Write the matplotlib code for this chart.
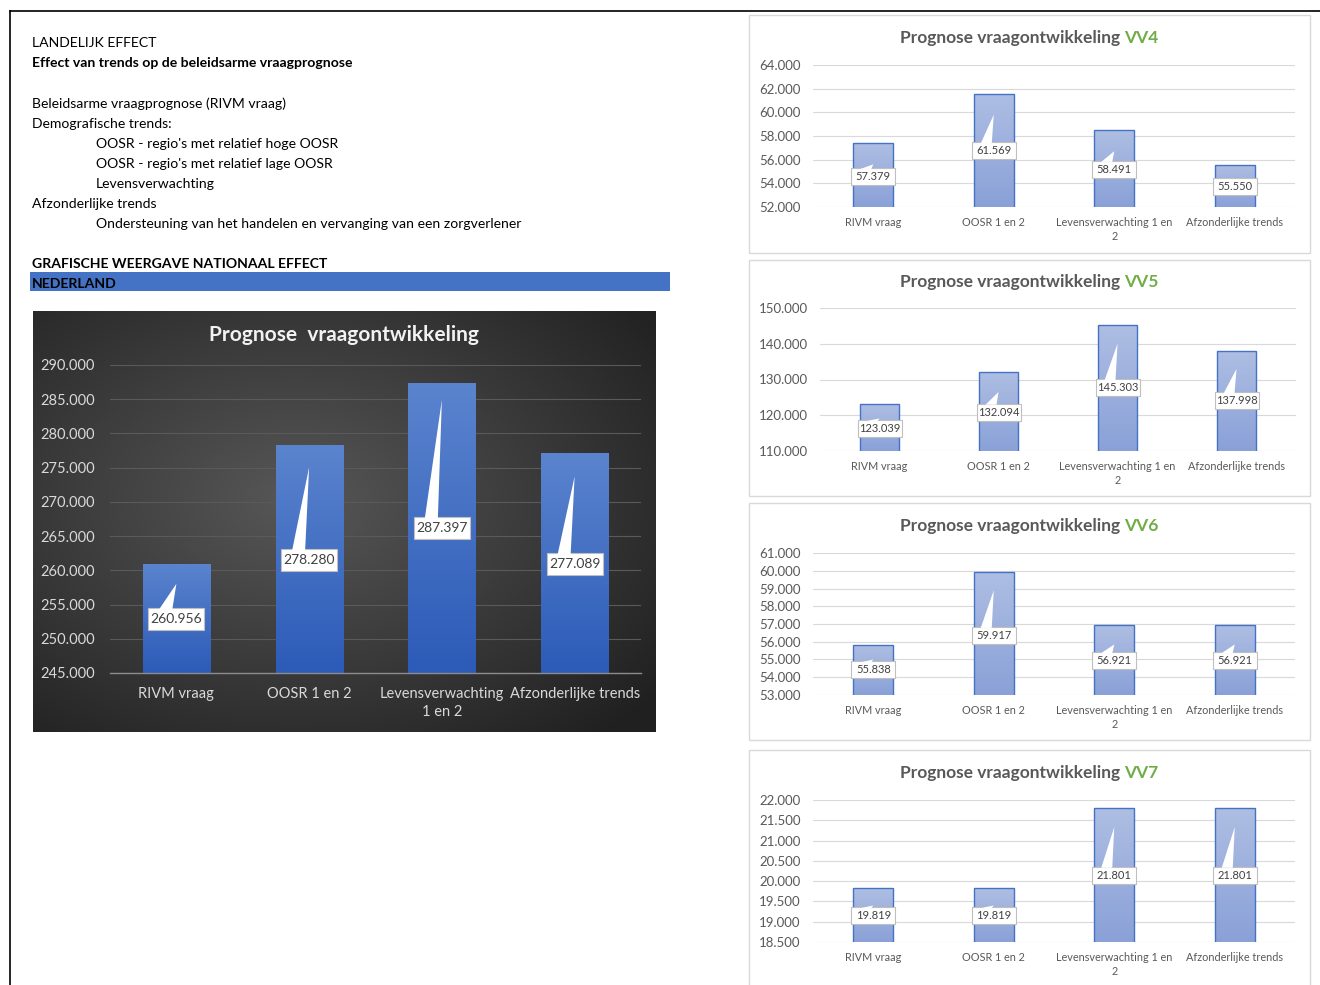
import numpy as np
import matplotlib
matplotlib.use("Agg")
import matplotlib.pyplot as plt
from matplotlib.patches import Polygon, Rectangle
from matplotlib.lines import Line2D
from matplotlib.transforms import IdentityTransform
from matplotlib.colors import to_rgb

W, H = 1320, 985
plt.rcParams['font.family'] = ['Lato', 'DejaVu Sans']

# ---------------- data ----------------
categories = ["RIVM vraag", "OOSR 1 en 2", "Levensverwachting 1 en 2", "Afzonderlijke trends"]
main_ticklabels = ["RIVM vraag", "OOSR 1 en 2", "Levensverwachting\n1 en 2", "Afzonderlijke trends"]
small_ticklabels = ["RIVM vraag", "OOSR 1 en 2", "Levensverwachting 1 en\n2", "Afzonderlijke trends"]

nl_values = [260956, 278280, 287397, 277089]
vv4_values = [57379, 61569, 58491, 55550]
vv5_values = [123039, 132094, 145303, 137998]
vv6_values = [55838, 59917, 56921, 56921]
vv7_values = [19819, 19819, 21801, 21801]

nl_yticks = [245000, 250000, 255000, 260000, 265000, 270000, 275000, 280000, 285000, 290000]
vv4_yticks = [52000, 54000, 56000, 58000, 60000, 62000, 64000]
vv5_yticks = [110000, 120000, 130000, 140000, 150000]
vv6_yticks = [53000, 54000, 55000, 56000, 57000, 58000, 59000, 60000, 61000]
vv7_yticks = [18500, 19000, 19500, 20000, 20500, 21000, 21500, 22000]

intro_lines = [
    ("LANDELIJK EFFECT", 0, "normal"),
    ("Effect van trends op de beleidsarme vraagprognose", 0, "bold"),
    ("Beleidsarme vraagprognose (RIVM vraag)", 0, "normal"),
    ("Demografische trends:", 0, "normal"),
    ("OOSR - regio's met relatief hoge OOSR", 1, "normal"),
    ("OOSR - regio's met relatief lage OOSR", 1, "normal"),
    ("Levensverwachting", 1, "normal"),
    ("Afzonderlijke trends", 0, "normal"),
    ("Ondersteuning van het handelen en vervanging van een zorgverlener", 1, "normal"),
    ("GRAFISCHE WEERGAVE NATIONAAL EFFECT", 0, "bold"),
]
intro_y = [42, 62, 103, 123, 143, 163, 183, 203, 223, 263]
banner_text = "NEDERLAND"
main_title = "Prognose  vraagontwikkeling"
small_title = "Prognose vraagontwikkeling"


def fmt(v):
    return f"{v:,.0f}".replace(",", ".")


fig = plt.figure(figsize=(W / 100, H / 100), dpi=100)
fig.patch.set_facecolor("white")


def add_ax(l, t, r, b, **kw):
    return fig.add_axes([l / W, 1 - b / H, (r - l) / W, (b - t) / H], **kw)


# ---------------- page frame ----------------
fig.add_artist(Line2D([10 / W, 1], [1 - 11 / H, 1 - 11 / H], transform=fig.transFigure,
                      color="black", lw=1.2))
fig.add_artist(Line2D([10 / W, 10 / W], [0, 1 - 11 / H], transform=fig.transFigure,
                      color="black", lw=1.2))

# ---------------- intro text ----------------
for (txt, indent, wt), y in zip(intro_lines, intro_y):
    x = 32 if indent == 0 else 96
    fig.text(x / W, 1 - (y + 1) / H, txt, fontsize=10.1, fontweight=wt, color="black",
             va="center", ha="left")

fig.add_artist(Rectangle((30 / W, 1 - 291 / H), 640 / W, 19 / H, transform=fig.transFigure,
                         facecolor="#4472C4", edgecolor="none"))
fig.text(32 / W, 1 - 284 / H, banner_text, fontsize=10.1, fontweight="bold", color="black",
         va="center", ha="left")


# ---------------- helpers ----------------
def gradient_bars(ax, values, width, top_c, bot_c, edge=None, lw=0.0):
    ylo = ax.get_ylim()[0]
    bars = ax.bar(range(len(values)), values, width=width, facecolor="none",
                  edgecolor=edge if edge else "none", linewidth=lw, zorder=3)
    t = np.array(to_rgb(top_c))
    b = np.array(to_rgb(bot_c))
    f = np.linspace(0, 1, 256)[:, None]
    img = (t[None, :] * (1 - f) + b[None, :] * f)[:, None, :]
    for i, (bar, v) in enumerate(zip(bars, values)):
        im = ax.imshow(img, extent=(i - width / 2, i + width / 2, ylo, v), aspect="auto",
                       origin="upper", zorder=2, interpolation="bilinear")
        im.set_clip_path(bar)
    return bars


def callouts(ax, values, dys, tips, box_w, box_h, fs, base=(-13, -2)):
    for i, (v, dy, tu) in enumerate(zip(values, dys, tips)):
        cx, ty = ax.transData.transform((i, v))
        by = ty - dy
        ax.add_patch(Rectangle((cx - box_w / 2, by - box_h / 2), box_w, box_h,
                               transform=IdentityTransform(), facecolor="white",
                               edgecolor="#BFBFBF", lw=0.8, zorder=6, clip_on=False))
        if tu > box_h / 2 + 1:
            ax.add_patch(Polygon([(cx + base[0], by + box_h / 2 - 1.2),
                                  (cx + base[1], by + box_h / 2 - 1.2),
                                  (cx, by + tu)], closed=True,
                                 transform=IdentityTransform(), facecolor="white",
                                 edgecolor="none", zorder=7, clip_on=False))
        ax.text(cx, by, fmt(v), transform=IdentityTransform(), ha="center", va="center",
                fontsize=fs, color="#404040", zorder=8, clip_on=False)


# ---------------- main dark chart ----------------
bg = add_ax(33, 311, 656, 732)
yy, xx = np.mgrid[0:1:300j, 0:1:450j]
r = np.sqrt(((xx - 0.42) / 0.75) ** 2 + ((yy - 0.45) / 0.75) ** 2)
r = np.clip(r, 0, 1)
c0 = np.array(to_rgb("#575757"))
c1 = np.array(to_rgb("#202020"))
bgimg = c0[None, None, :] * (1 - r[..., None]) + c1[None, None, :] * r[..., None]
bg.imshow(bgimg, extent=(0, 1, 0, 1), aspect="auto", origin="upper")
bg.set_axis_off()

ax = add_ax(110, 365, 641, 673)
ax.set_facecolor("none")
ax.set_xlim(-0.5, 3.5)
ax.set_ylim(nl_yticks[0], nl_yticks[-1])
gradient_bars(ax, nl_values, 0.505, "#5B84CE", "#2C5BB8")
ax.set_yticks(nl_yticks)
ax.set_yticklabels([fmt(v) for v in nl_yticks])
ax.set_xticks(range(4))
ax.set_xticklabels(main_ticklabels, linespacing=1.4)
ax.tick_params(axis="y", length=0, pad=11, labelsize=10.5, labelcolor="#D9D9D9")
ax.tick_params(axis="x", length=0, pad=10, labelsize=10.5, labelcolor="#D9D9D9")
ax.grid(axis="y", color="#5A5A5A", lw=0.8, zorder=1)
ax.set_axisbelow(True)
for s in ["top", "right", "left"]:
    ax.spines[s].set_visible(False)
ax.spines["bottom"].set_color("#8C8C8C")
ax.spines["bottom"].set_linewidth(1.0)
ax.spines["bottom"].set_zorder(4)
callouts(ax, nl_values, [55, 115, 145, 111], [35, 93, 128, 88], 56, 22, 10, base=(-17, -4))
fig.text(344 / W, 1 - 335 / H, main_title, fontsize=15, fontweight="bold", color="#F2F2F2",
         ha="center", va="center")

# ---------------- small charts ----------------
small_charts = [
    dict(name="VV4", values=vv4_values, yticks=vv4_yticks, ax=(813, 65, 1295, 207),
         title_y=37, box=(749, 15, 1310, 253), dys=[33, 57, 39, 22], tips=[12, 36, 18, 9]),
    dict(name="VV5", values=vv5_values, yticks=vv5_yticks, ax=(820, 308, 1296, 451),
         title_y=281, box=(749, 260, 1310, 496), dys=[24, 40, 63, 50], tips=[10, 20, 44, 32]),
    dict(name="VV6", values=vv6_values, yticks=vv6_yticks, ax=(813, 553, 1295, 695),
         title_y=525, box=(749, 503, 1310, 740), dys=[25, 63, 35, 35], tips=[10, 45, 16, 16]),
    dict(name="VV7", values=vv7_values, yticks=vv7_yticks, ax=(813, 800, 1295, 942),
         title_y=772, box=(749, 750, 1310, 995), dys=[27, 27, 67, 67], tips=[10, 10, 48, 48]),
]

renderer = fig.canvas.get_renderer()
for ch in small_charts:
    l, t, r_, b = ch["box"]
    fig.add_artist(Rectangle((l / W, 1 - b / H), (r_ - l) / W, (b - t) / H,
                             transform=fig.transFigure, facecolor="white",
                             edgecolor="#D9D9D9", lw=1.0, zorder=0))
    a = add_ax(*ch["ax"])
    a.set_facecolor("none")
    a.set_xlim(-0.5, 3.5)
    a.set_ylim(ch["yticks"][0], ch["yticks"][-1])
    gradient_bars(a, ch["values"], 0.335, "#AEBEE3", "#8AA1D8", edge="#4472C4", lw=1.0)
    a.set_yticks(ch["yticks"])
    a.set_yticklabels([fmt(v) for v in ch["yticks"]])
    a.set_xticks(range(4))
    a.set_xticklabels(small_ticklabels, linespacing=1.4)
    a.tick_params(axis="y", length=0, pad=9, labelsize=9.5, labelcolor="#595959")
    a.tick_params(axis="x", length=0, pad=7, labelsize=7.8, labelcolor="#595959")
    a.grid(axis="y", color="#D9D9D9", lw=0.8, zorder=1)
    a.set_axisbelow(True)
    for s in a.spines.values():
        s.set_visible(False)
    callouts(a, ch["values"], ch["dys"], ch["tips"], 44, 17, 8)

    # two-colour title
    cx = (l + r_) / 2
    cy = 1 - (ch["title_y"] + 1) / H
    fs = 12.5
    t1 = fig.text(0, cy, small_title, fontsize=fs, fontweight="bold", color="#595959",
                  ha="left", va="center")
    t2 = fig.text(0, cy, ch["name"], fontsize=fs, fontweight="bold", color="#70AD47",
                  ha="left", va="center")
    w1 = t1.get_window_extent(renderer).width
    w2 = t2.get_window_extent(renderer).width
    gap = fs * 0.3
    x0 = cx - (w1 + gap + w2) / 2
    t1.set_x(x0 / W)
    t2.set_x((x0 + w1 + gap) / W)

fig.savefig("out.png", dpi=100, facecolor="white")
